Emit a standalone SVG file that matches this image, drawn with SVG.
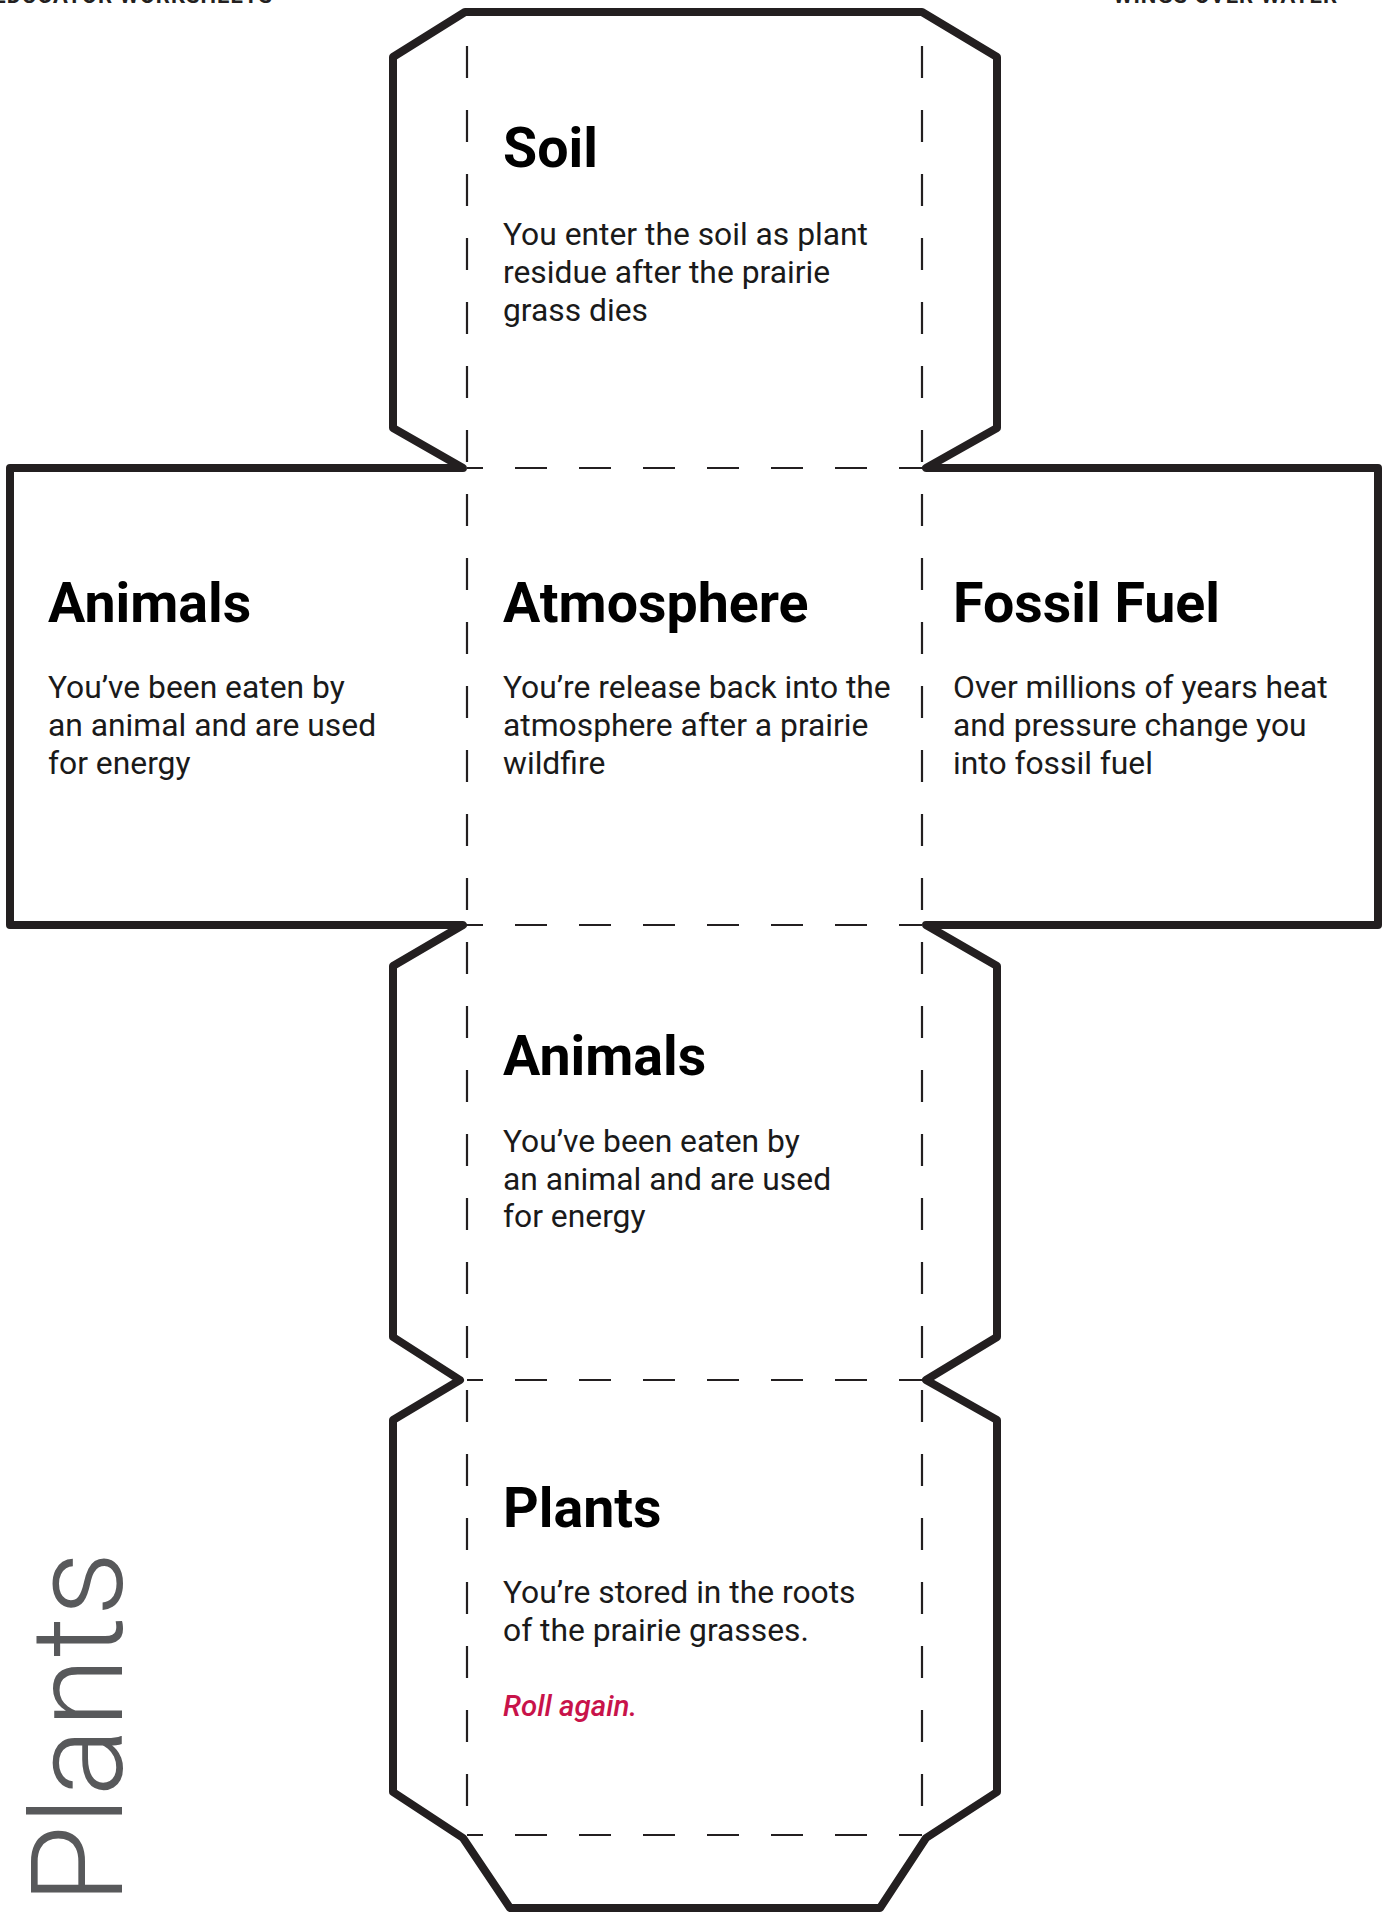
<svg xmlns="http://www.w3.org/2000/svg" width="1389" height="1913" viewBox="0 0 1389 1913">
<style>
.outline{fill:#ffffff;stroke:#231f20;stroke-width:8;stroke-linejoin:round;stroke-linecap:round}
.fold{fill:none;stroke:#231f20;stroke-width:2.2;stroke-dasharray:32 32}
.title{font-family:Roboto,"Liberation Sans",sans-serif;font-weight:700;font-size:55.5px;fill:#000}
.body{font-family:Roboto,"Liberation Sans",sans-serif;font-weight:400;font-size:31.8px;fill:#1a1a1a}
.roll{font-family:Roboto,"Liberation Sans",sans-serif;font-style:italic;font-weight:500;font-size:29.5px;fill:#c8134a}
.hdr{font-family:Roboto,"Liberation Sans",sans-serif;font-weight:700;font-size:22px;fill:#231f20;letter-spacing:1px}
.side{font-family:Roboto,"Liberation Sans",sans-serif;font-weight:300;font-size:128px;fill:#58595b}
</style>
<rect width="1389" height="1913" fill="#ffffff"/>
<g id="header">
<text class="hdr" x="273" y="3" text-anchor="end">EDUCATOR WORKSHEETS</text>
<text class="hdr" x="1338" y="3" text-anchor="end">WINGS OVER WATER</text>
</g>
<g id="net-outline">
<path class="outline" d="M10,468 L463,468 L393,428 L393,57 L465,12 L922,12 L997,57 L997,428 L926,468 L1378,468 L1378,925 L926,925 L997,966 L997,1337 L926,1380 L997,1420 L997,1792 L926,1838 L880,1908 L510,1908 L463,1838 L393,1792 L393,1420 L460,1380 L393,1337 L393,966 L463,925 L10,925 Z"/>
</g>
<g id="connectors">
<line class="fold" x1="467" y1="12" x2="467" y2="1835" stroke-dashoffset="30"/>
<line class="fold" x1="922" y1="12" x2="922" y2="1835" stroke-dashoffset="30"/>
<line class="fold" x1="467" y1="468" x2="922" y2="468" stroke-dashoffset="16"/>
<line class="fold" x1="467" y1="925" x2="922" y2="925" stroke-dashoffset="16"/>
<line class="fold" x1="467" y1="1380" x2="922" y2="1380" stroke-dashoffset="16"/>
<line class="fold" x1="467" y1="1835" x2="922" y2="1835" stroke-dashoffset="16"/>
</g>
<g id="face-soil">
<text class="title" x="503" y="167">Soil</text>
<text class="body" x="503" y="245">You enter the soil as plant</text>
<text class="body" x="503" y="283">residue after the prairie</text>
<text class="body" x="503" y="321">grass dies</text>
</g>
<g id="face-animals-left">
<text class="title" x="48" y="622">Animals</text>
<text class="body" x="48" y="698">You’ve been eaten by</text>
<text class="body" x="48" y="736">an animal and are used</text>
<text class="body" x="48" y="774">for energy</text>
</g>
<g id="face-atmosphere">
<text class="title" x="503" y="622">Atmosphere</text>
<text class="body" x="503" y="698">You’re release back into the</text>
<text class="body" x="503" y="736">atmosphere after a prairie</text>
<text class="body" x="503" y="774">wildfire</text>
</g>
<g id="face-fossil-fuel">
<text class="title" x="953" y="622">Fossil Fuel</text>
<text class="body" x="953" y="698">Over millions of years heat</text>
<text class="body" x="953" y="736">and pressure change you</text>
<text class="body" x="953" y="774">into fossil fuel</text>
</g>
<g id="face-animals-center">
<text class="title" x="503" y="1075">Animals</text>
<text class="body" x="503" y="1152">You’ve been eaten by</text>
<text class="body" x="503" y="1190">an animal and are used</text>
<text class="body" x="503" y="1227">for energy</text>
</g>
<g id="face-plants">
<text class="title" x="503" y="1527">Plants</text>
<text class="body" x="503" y="1603">You’re stored in the roots</text>
<text class="body" x="503" y="1641">of the prairie grasses.</text>
<text class="roll" x="503" y="1716">Roll again.</text>
</g>
<g id="side-label">
<text class="side" transform="translate(122,1904) rotate(-90)">Plants</text>
</g>
</svg>
